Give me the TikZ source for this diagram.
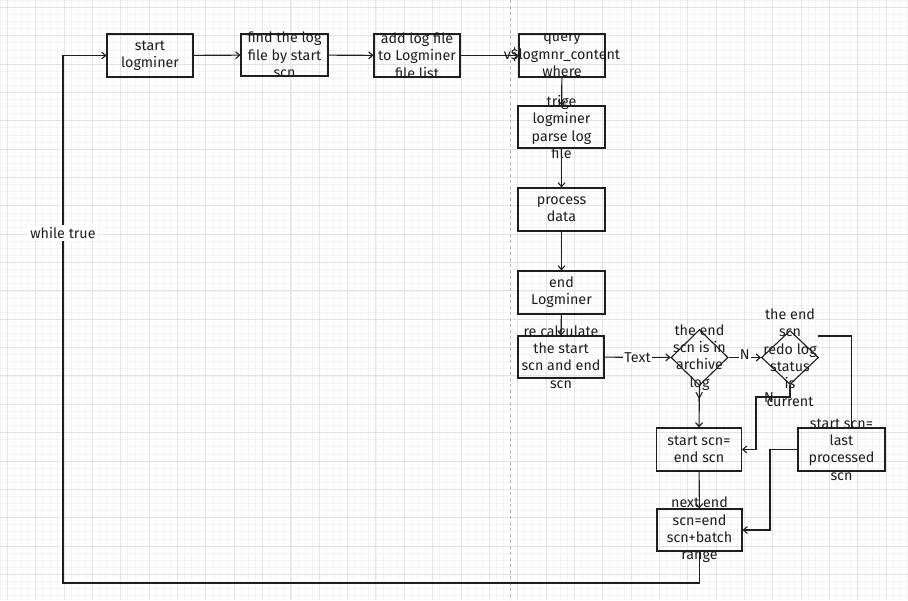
\documentclass[tikz,border=0pt]{standalone}
\usepackage{fontspec}
\setmainfont{Fira Sans}
\usetikzlibrary{arrows.meta,shapes.geometric,calc}
\definecolor{ink}{HTML}{1E1E1E}
\definecolor{gminor}{HTML}{F3F3F3}
\definecolor{gmajor}{HTML}{E3E3E3}
\definecolor{guide}{HTML}{B4B4B4}
\tikzset{
  boxnode/.style={draw=ink, line width=1.1pt, rectangle, inner sep=0pt, minimum width=86pt, minimum height=43pt},
  dia/.style={draw=ink, line width=1.1pt, diamond, inner sep=0pt, minimum width=57pt, minimum height=56pt},
  txt/.style={align=center, text=ink, font=\fontsize{14.3}{17.3}\selectfont, inner sep=0pt},
  conn/.style={draw=ink, line width=1.1pt, -{Straight Barb[length=4pt,width=7pt]}},
  plain/.style={draw=ink, line width=1.1pt},
  lbl/.style={text=ink, font=\fontsize{14.3}{17.3}\selectfont, inner sep=1pt, fill=white},
  lblnf/.style={text=ink, font=\fontsize{14.3}{17.3}\selectfont, inner sep=1pt},
}
\begin{document}
\begin{tikzpicture}[x=1pt,y=-1pt]
\useasboundingbox (0,0) rectangle (908,600);
\fill[white] (0,0) rectangle (908,600);
% grid
\foreach \k in {-1,...,128} {\draw[gminor, line width=0.6pt] ({7.3+\k*7.0875},0) -- ({7.3+\k*7.0875},600);}
\foreach \k in {-1,...,85} {\draw[gminor, line width=0.6pt] (0,{7.3+\k*7.0875}) -- (908,{7.3+\k*7.0875});}
\foreach \k in {0,...,32} {\draw[gmajor, line width=0.8pt] ({7.3+\k*28.35},0) -- ({7.3+\k*28.35},600);}
\foreach \k in {0,...,21} {\draw[gmajor, line width=0.8pt] (0,{7.3+\k*28.35}) -- (908,{7.3+\k*28.35});}
\draw[guide, dashed, dash pattern=on 3pt off 3pt, line width=0.8pt] (510.7,0) -- (510.7,600);

% boxes
\node[boxnode] (n1) at (150,55.5) {};
\node[boxnode, minimum width=87pt, minimum height=42pt] (n2) at (284.5,55) {};
\node[boxnode] (n3) at (417,55.5) {};
\node[boxnode] (n4) at (562,55.5) {};
\node[boxnode, minimum width=87pt, minimum height=42pt] (n5) at (561.5,127) {};
\node[boxnode, minimum width=87pt] (n6) at (561.5,209.5) {};
\node[boxnode, minimum width=87pt] (n7) at (561.5,292.5) {};
\node[boxnode, minimum height=42pt] (n8) at (561,357) {};
\node[dia] (d1) at (699.5,357.5) {};
\node[dia, minimum height=54pt] (d2) at (790,357.5) {};
\node[boxnode, minimum width=85pt] (n9) at (699,449.5) {};
\node[boxnode, minimum width=87pt] (n10) at (841.5,449.5) {};
\node[boxnode, minimum width=85pt, minimum height=42pt] (n11) at (699.5,530) {};

% connectors
\draw[conn] (n1) -- (n2);
\draw[conn] (n2) -- (n3);
\draw[conn] (n3) -- (n4);
\draw[conn] (n4) -- (n5);
\draw[conn] (n5) -- (n6);
\draw[conn] (n6) -- (n7);
\draw[conn] (n7) -- (n8);
\draw[conn] (n8) -- node[lbl] {Text} (d1);
\draw[conn] (d1) -- node[lbl, yshift=3pt] {N} (d2);
\draw[conn] (d1.south) -- node[lblnf, pos=0.28] {Y} (n9.north);
\coordinate (c1) at (790,397);
\coordinate (c2) at (756,397);
\draw[conn] (d2.south) -- (c1) -- (c2) -- (c2 |- n9.east) -- (n9.east);
\node[lblnf] (nlab) at (769,398) {N};
\coordinate (c3) at (818,336);
\coordinate (c4) at (851.7,336);
\draw[plain] (c3) -- (c4) -- (c4 |- n10.north);
\coordinate (c5) at (770,449.5);
\draw[conn] (n10.west) -- (c5) -- (c5 |- n11.east) -- (n11.east);
\draw[conn] (n9) -- (n11);
\coordinate (c6) at (699.5,583);
\coordinate (c7) at (63,583);
\draw[conn] (n11.south) -- (c6) -- (c7) -- (c7 |- n1.west) -- (n1.west);
\node[lbl, inner sep=2pt] (wt) at (63,233) {while true};

% texts
\node[txt] at (n1) {start\\logminer};
\node[txt] at (n2) {find the log\\file by start\\scn};
\node[txt] at (n3) {add log file\\to Logminer\\file list};
\node[txt] at (n4) {query\\v\$logmnr\_content\\where};
\node[txt] at (n5) {trige\\logminer\\parse log\\file};
\node[txt] at (n6) {process\\data};
\node[txt] at (n7) {end\\Logminer};
\node[txt] at (n8) {re calculate\\the start\\scn and end\\scn};
\node[txt] at (d1) {the end\\scn is in\\archive\\log};
\node[txt] at (d2) {the end\\scn\\redo log\\status\\is\\current};
\node[txt] at (n9) {start scn=\\end scn};
\node[txt] at (n10) {start scn=\\last\\processed\\scn};
\node[txt] at (n11) {next end\\scn=end\\scn+batch\\range};
\end{tikzpicture}
\end{document}
